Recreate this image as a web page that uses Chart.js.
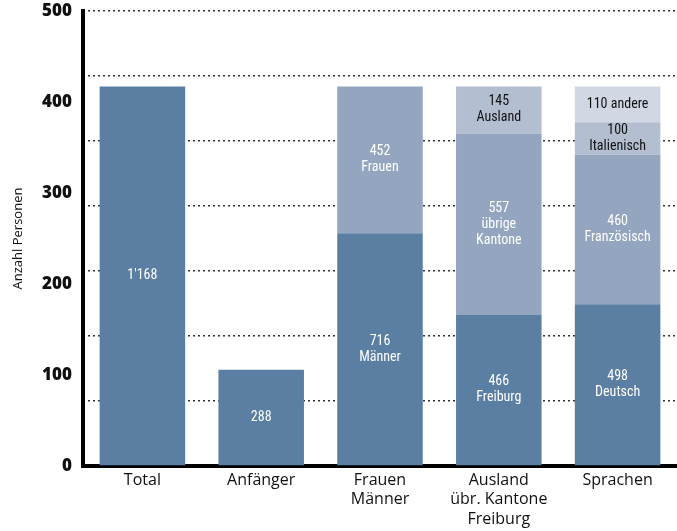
<!DOCTYPE html>
<html>
<head>
<meta charset="utf-8">
<script src="https://cdn.jsdelivr.net/npm/chart.js@4"></script>
<style>
  html, body { margin: 0; padding: 0; background: #fff; }
  canvas { display: block; }
</style>
</head>
<body>
<canvas id="chart" width="677" height="531"></canvas>
<script>
// --- DATA ---
const categories = ["Total", "Anfänger", ["Frauen", "Männer"], ["Ausland", "übr. Kantone", "Freiburg"], "Sprachen"];
// stacked segments, bottom to top (persons); Anfänger bar is drawn a bit taller than its 288 label
const base = [1168, 296, 716, 466, 498];
const middle = [null, null, 452, 557, 460];
const upper = [null, null, null, 145, 100];
const top4 = [null, null, null, null, 110];
const baseLabels = ["1'168", "288", "716\nMänner", "466\nFreiburg", "498\nDeutsch"];
const middleLabels = [null, null, "452\nFrauen", "557\nübrige\nKantone", "460\nFranzösisch"];
const upperLabels = [null, null, null, "145\nAusland", "100\nItalienisch"];
const top4Labels = [null, null, null, null, "110 andere"];
const yTicks = [0, 100, 200, 300, 400, 500];
const countMax = 1400;   // persons that fill the 0..500 axis
const gridStep = 200;    // dotted lines every 200 persons

const labelSets = [baseLabels, middleLabels, upperLabels, top4Labels];
const labelColors = ["#ffffff", "#ffffff", "#111111", "#111111"];
const narrow = "Roboto, 'DejaVu Sans Condensed', sans-serif";

// --- LABELS INSIDE THE BARS ---
const segmentText = {
  id: "segmentText",
  afterDatasetsDraw(chart) {
    const ctx = chart.ctx;
    ctx.save();
    ctx.font = "14px " + narrow;
    if ("fontStretch" in ctx) ctx.fontStretch = "condensed";
    ctx.textAlign = "center";
    ctx.textBaseline = "middle";
    chart.data.datasets.forEach((ds, i) => {
      const meta = chart.getDatasetMeta(i);
      meta.data.forEach((bar, j) => {
        const txt = labelSets[i][j];
        if (!txt) return;
        const lines = txt.split("\n");
        const lh = 16;
        const cy = (bar.y + bar.base) / 2 - (lines.length - 1) * lh / 2;
        ctx.fillStyle = labelColors[i];
        lines.forEach((l, k) => ctx.fillText(l, bar.x, cy + k * lh));
      });
    });
    ctx.restore();
  }
};

const ctx = document.getElementById("chart").getContext("2d");
new Chart(ctx, {
  type: "bar",
  data: {
    labels: categories,
    datasets: [
      { data: base, backgroundColor: "#5b7fa3", yAxisID: "count" },
      { data: middle, backgroundColor: "#94a5bf", yAxisID: "count" },
      { data: upper, backgroundColor: "#b3bfd1", yAxisID: "count" },
      { data: top4, backgroundColor: "#d2d8e3", yAxisID: "count" },
    ],
  },
  options: {
    responsive: false,
    animation: false,
    layout: { padding: { top: 11, right: 0, bottom: 0, left: 0 } },
    datasets: { bar: { barPercentage: 0.72, categoryPercentage: 1, borderWidth: 0 } },
    plugins: { legend: { display: false }, tooltip: { enabled: false } },
    scales: {
      x: {
        stacked: true,
        grid: { display: false, drawTicks: false },
        border: { display: true, color: "#000", width: 4 },
        ticks: {
          color: "#111",
          padding: 5,
          font: { family: "'Open Sans', sans-serif", size: 16, lineHeight: 1.2 },
          maxRotation: 0,
          autoSkip: false,
        },
        afterFit(scale) { scale.height = 65; scale.paddingLeft = 0; scale.paddingRight = 0; },
      },
      y: {
        position: "left",
        min: 0,
        max: 500,
        afterBuildTicks(scale) { scale.ticks = yTicks.map(v => ({ value: v })); },
        grid: { display: false, drawTicks: false },
        border: { display: true, color: "#000", width: 4 },
        ticks: {
          color: "#111",
          padding: 11,
          font: { family: "'Open Sans', sans-serif", size: 17, weight: "800" },
        },
        title: {
          display: true,
          text: "Anzahl Personen",
          color: "#111",
          font: { family: "'Open Sans', sans-serif", size: 13 },
          padding: { top: 10, bottom: 0 },
        },
        afterFit(scale) { scale.width = 83; scale.paddingTop = 0; scale.paddingBottom = 0; },
      },
      count: {
        position: "right",
        stacked: true,
        min: 0,
        max: countMax,
        ticks: { display: false, stepSize: gridStep },
        border: { display: false, dash: [2, 3] },
        grid: {
          drawTicks: false,
          color: "#333",
          lineWidth: 1.5,
        },
        afterFit(scale) { scale.width = 0; scale.paddingTop = 0; scale.paddingBottom = 0; },
      },
    },
  },
  plugins: [segmentText],
});
</script>
</body>
</html>
